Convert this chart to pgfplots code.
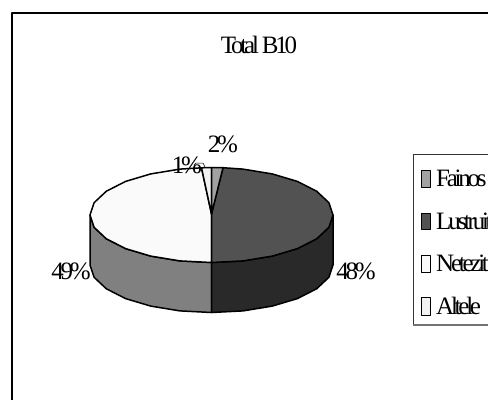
\documentclass[border=0pt]{standalone}
\usepackage{pgfplots}
\pgfplotsset{compat=1.18}
\usepackage{fontspec}
\setmainfont{Liberation Serif}
\newcommand{\tight}[1]{{\addfontfeature{LetterSpace=-13}\fontsize{25}{25}\selectfont #1}}
\begin{document}
\begin{tikzpicture}[x=1pt,y=1pt]
\path[use as bounding box] (0,0) rectangle (488,400);
\begin{axis}[scale only axis,width=488pt,height=400pt,xmin=0,xmax=488,ymin=0,ymax=400,y dir=reverse,hide axis,clip=true,anchor=south west,at={(0,0)},
  every axis plot/.append style={line width=1.5pt,draw=black,line join=round}]
% frame
\addplot[line width=2pt,black,no markers] coordinates {(11.5,400) (11.5,13) (488,13)};
% side walls
\addplot[fill=black!50,no markers] coordinates {(90,215) (90,265) (94.1,277.3) (106.3,288.75) (125.6,298.6) (150.75,306.1) (180,310.9) (211.5,312.5) (211.5,262.5) (180,260.9) (150.75,256.1) (125.6,248.6) (106.3,238.75) (94.1,227.3) (90,215)} -- cycle;
\addplot[fill=black!84,no markers] coordinates {(333,215) (333,265) (328.9,277.3) (316.7,288.75) (297.4,298.6) (272.25,306.1) (243,310.9) (211.5,312.5) (211.5,262.5) (243,260.9) (272.25,256.1) (297.4,248.6) (316.7,238.75) (328.9,227.3) (333,215)} -- cycle;
% top slices
\addplot[fill=black!2,no markers] coordinates {(211.5,214) (211.5,262.5) (180,260.9) (150.75,256.1) (125.6,248.6) (106.3,238.75) (94.1,227.3) (90,215) (94.1,202.7) (106.3,191.25) (125.6,181.4) (150.75,173.9) (180,169.1) (201.5,167.8) (211.5,214)} -- cycle;
\addplot[fill=black!68,no markers] coordinates {(211.5,214) (223,167.7) (243,169.1) (272.25,173.9) (297.4,181.4) (316.7,191.25) (328.9,202.7) (333,215) (328.9,227.3) (316.7,238.75) (297.4,248.6) (272.25,256.1) (243,260.9) (211.5,262.5) (211.5,214)} -- cycle;
\addplot[fill=black!5,no markers] coordinates {(211.5,214) (201.5,167.8) (211.5,167.5) (211.5,214)} -- cycle;
\addplot[fill=black!37,no markers] coordinates {(211.5,214) (211.5,167.5) (223,167.7) (211.5,214)} -- cycle;
% leader
\addplot[line width=.5pt,no markers] coordinates {(194,165) (196,163) (203,163) (205,167)};
% legend box
\addplot[line width=.8pt,black!80,no markers] coordinates {(488,154) (413,154) (413,325)};
\addplot[line width=1.6pt,black!55,no markers] coordinates {(413,325) (488,325)};
% legend keys
\addplot[fill=black!37,line width=1pt,no markers] coordinates {(421,170) (430,170) (430,187) (421,187) (421,170)} -- cycle;
\addplot[fill=black!68,line width=1pt,no markers] coordinates {(421,213) (430,213) (430,229) (421,229) (421,213)} -- cycle;
\addplot[fill=black!2,line width=1pt,no markers] coordinates {(421,255) (430,255) (430,272) (421,272) (421,255)} -- cycle;
\addplot[fill=black!5,line width=1pt,no markers] coordinates {(421,297) (430,297) (430,315) (421,315) (421,297)} -- cycle;
\node at (axis cs:259,45) {\tight{Total B10}};
\node at (axis cs:223,144) {\tight{2\%}};
\node at (axis cs:187,165) {\tight{1\%}};
\node at (axis cs:71,271) {\tight{49\%}};
\node at (axis cs:356,271) {\tight{48\%}};
\node[anchor=west,inner sep=0pt] at (axis cs:436,178) {\tight{Fainos}};
\node[anchor=west,inner sep=0pt] at (axis cs:436,221) {\tight{Lustruit}};
\node[anchor=west,inner sep=0pt] at (axis cs:436,263) {\tight{Netezit}};
\node[anchor=west,inner sep=0pt] at (axis cs:436,306) {\tight{Altele}};
\end{axis}
\end{tikzpicture}
\end{document}
